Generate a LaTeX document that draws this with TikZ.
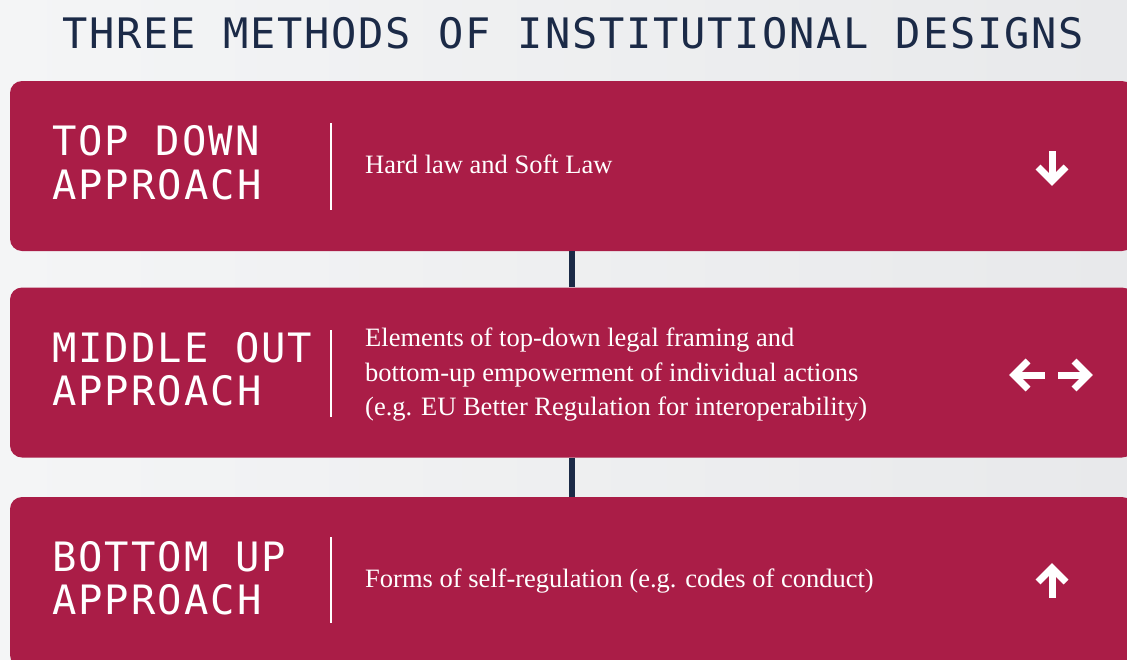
\documentclass[tikz,border=0pt]{standalone}
\usepackage{fontspec}
\setmainfont{Liberation Serif}
\newfontfamily\techfont[LetterSpace=5]{DejaVu Sans Mono}
\newfontfamily\titlefont[LetterSpace=4.4]{DejaVu Sans Mono}
\definecolor{crimson}{HTML}{AA1D47}
\definecolor{navy}{HTML}{1B2A47}
\definecolor{bgl}{HTML}{F4F5F6}
\definecolor{bgr}{HTML}{E8E9EB}
\tikzset{
  band/.style={fill=crimson, draw=none, rounded corners=12pt, minimum width=1124pt, minimum height=170pt, inner sep=0pt},
  heading/.style={text=navy, font=\titlefont\fontsize{42}{46}\selectfont, inner sep=0pt},
  label/.style={text=white, font=\techfont\fontsize{40.5}{44}\selectfont, anchor=base west, inner sep=0pt},
  body/.style={text=white, font=\fontsize{26.5}{32}\selectfont, anchor=base west, inner sep=0pt},
  sep/.style={draw=white, line width=2pt},
  link/.style={draw=navy, line width=6pt},
  icon/.style={draw=white, line width=7pt, line join=miter, line cap=butt}
}
\begin{document}
\begin{tikzpicture}[x=1pt,y=-1pt]
\useasboundingbox (0,0) rectangle (1127,659);
\clip (0,0) rectangle (1127,659);
\shade[left color=bgl, right color=bgr] (0,0) rectangle (1127,659);

\node[heading, anchor=base west] (title) at (62,48) {THREE METHODS OF INSTITUTIONAL DESIGNS};

\node[band] (b1) at (572,166) {};
\node[band] (b2) at (572,372.5) {};
\node[band] (b3) at (572,582) {};

\draw[link] (b1.south) -- (b2.north);
\draw[link] (b2.south) -- (b3.north);

% box 1
\node[label] (l1a) at (52,155) {TOP DOWN};
\node[label] (l1b) at (52,199) {APPROACH};
\draw[sep] (331,123) -- (331,210);
\node[body] (t1) at (365,173) {Hard law and Soft Law};
\draw[icon] (1052,151) -- (1052,180);
\draw[icon] (1038,167) -- (1052,181) -- (1066,167);

% box 2
\node[label] (l2a) at (52,362) {MIDDLE OUT};
\node[label] (l2b) at (52,405) {APPROACH};
\draw[sep] (331,330) -- (331,417);
\node[body] (t2a) at (365,346) {Elements of top-down legal framing and};
\node[body] (t2b) at (365,381) {bottom-up empowerment of individual actions};
\node[body] (t2c) at (365,415) {(e.g. EU Better Regulation for interoperability)};
\draw[icon] (1014,375) -- (1045,375);
\draw[icon] (1028,361) -- (1014,375) -- (1028,389);
\draw[icon] (1058,375) -- (1088,375);
\draw[icon] (1074,361) -- (1088,375) -- (1074,389);

% box 3
\node[label] (l3a) at (52,571) {BOTTOM UP};
\node[label] (l3b) at (52,614) {APPROACH};
\draw[sep] (331,537) -- (331,623);
\node[body] (t3) at (365,587) {Forms of self-regulation (e.g. codes of conduct)};
\draw[icon] (1052,568) -- (1052,598);
\draw[icon] (1038,582) -- (1052,568) -- (1066,582);
\end{tikzpicture}
\end{document}
